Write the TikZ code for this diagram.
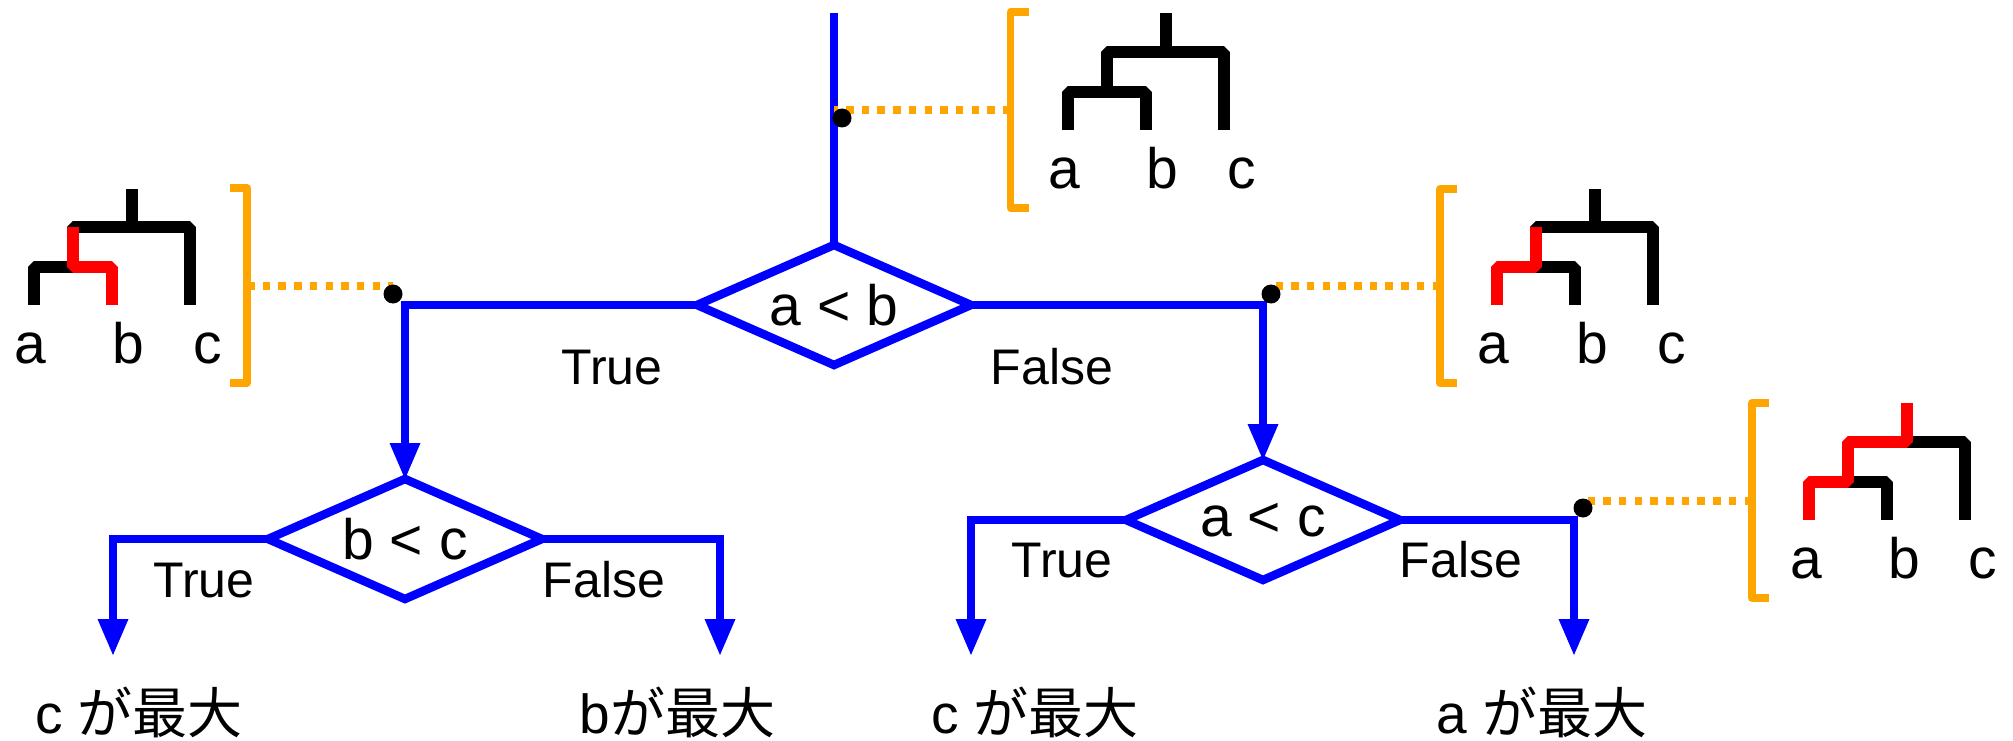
\documentclass[tikz,border=0pt]{standalone}
\usepackage{fontspec}
\setmainfont{Liberation Sans}
\newfontfamily\jpfont{Noto Sans CJK JP}
\usetikzlibrary{shapes.geometric,arrows.meta}

\definecolor{flowblue}{RGB}{0,0,255}
\definecolor{bracketorange}{RGB}{255,165,0}
\definecolor{pathred}{RGB}{255,0,0}

\tikzset{
  flow/.style={draw=flowblue, line width=8.5pt},
  arrowflow/.style={flow, -{Triangle[length=36pt,width=31pt,line width=0pt]}},
  decision/.style={diamond, draw=flowblue, line width=8.5pt, aspect=2.28,
    minimum width=274pt, minimum height=120pt, inner sep=0pt, outer sep=0pt,
    font=\fontsize{57}{60}\selectfont},
  branch/.style={font=\fontsize{50}{55}\selectfont, anchor=base, inner sep=0pt},
  result/.style={font=\fontsize{55}{60}\selectfont, anchor=base west, inner sep=0pt},
  leaf/.style={font=\fontsize{57}{60}\selectfont, anchor=base, inner sep=0pt},
  treeline/.style={draw=black, line width=12pt, line join=bevel, line cap=butt},
  hilite/.style={treeline, draw=pathred},
  bracket/.style={draw=bracketorange, line width=7.5pt, line join=round},
  guide/.style={draw=bracketorange, line width=7.5pt, dash pattern=on 7.5pt off 8.2pt},
  probe/.style={circle, fill=black, minimum size=19pt, inner sep=0pt},
}

\begin{document}
\begin{tikzpicture}[x=1pt,y=-1pt]
\useasboundingbox (0,0) rectangle (2013,741);

% ---- decisions ----
\node[decision] (d1) at (834,305) {a < b};
\node[decision] (d2) at (405,539) {b < c};
\node[decision] (d3) at (1263,520) {a < c};

\coordinate (entry) at (834,13);
\coordinate (out1) at (113,655);
\coordinate (out2) at (720,655);
\coordinate (out3) at (971,655);
\coordinate (out4) at (1574,655);

\draw[flow] (entry) -- (d1.north);
\draw[arrowflow] (d1.west) -| (d2.north);
\draw[arrowflow] (d1.east) -| (d3.north);
\draw[arrowflow] (d2.west) -| (out1);
\draw[arrowflow] (d2.east) -| (out2);
\draw[arrowflow] (d3.west) -| (out3);
\draw[arrowflow] (d3.east) -| (out4);

% ---- branch labels ----
\node[branch] (t1) at (612,384) {True};
\node[branch] (f1) at (1052,384) {False};
\node[branch] (t2) at (204,597) {True};
\node[branch] (f2) at (604,597) {False};
\node[branch] (t3) at (1062,577) {True};
\node[branch] (f3) at (1461,577) {False};

% ---- results ----
\node[result] (r1) at (35,733) {c {\jpfont が最大}};
\node[result] (r2) at (579.5,733) {b{\jpfont が最大}};
\node[result] (r3) at (931,733) {c {\jpfont が最大}};
\node[result] (r4) at (1436,733) {a {\jpfont が最大}};

% ---- trees: origin at the foot of leaf a ----
% state at entry
\begin{scope}[shift={(1068,130)}]
  \draw[treeline] (0,0) |- (39,-38) -- (39,-78) -| (156,0);
  \draw[treeline] (78,0) |- (39,-38);
  \draw[treeline] (98,-78) -- (98,-117);
  \node[leaf] (a0) at (-4,58) {a};
  \node[leaf] (b0) at (94.5,58) {b};
  \node[leaf] (c0) at (174,58) {c};
  \draw[bracket] (-39,-118) -- (-57.5,-118) -- (-57.5,78) -- (-39,78);
  \coordinate (g0) at (-57.5,-20);
\end{scope}

% a < b holds
\begin{scope}[shift={(34,305)}]
  \draw[treeline] (0,0) |- (39,-38) -- (39,-78) -| (156,0);
  \draw[treeline] (98,-78) -- (98,-116);
  \draw[hilite] (78,0) |- (39,-38) -- (39,-78);
  \node[leaf] (a1) at (-4,58) {a};
  \node[leaf] (b1) at (94.5,58) {b};
  \node[leaf] (c1) at (174,58) {c};
  \draw[bracket] (196,-117) -- (213,-117) -- (213,78) -- (196,78);
  \coordinate (g1) at (213,-19);
\end{scope}

% a < b fails
\begin{scope}[shift={(1497,305)}]
  \draw[treeline] (78,0) |- (39,-38) -- (39,-78) -| (156,0);
  \draw[treeline] (98,-78) -- (98,-116);
  \draw[hilite] (0,0) |- (39,-38) -- (39,-78);
  \node[leaf] (a2) at (-4,58) {a};
  \node[leaf] (b2) at (95,58) {b};
  \node[leaf] (c2) at (175,58) {c};
  \draw[bracket] (-40,-116) -- (-57,-116) -- (-57,78) -- (-40,78);
  \coordinate (g2) at (-57,-19);
\end{scope}

% a < c fails
\begin{scope}[shift={(1809,520)}]
  \draw[treeline] (78,0) |- (39,-38);
  \draw[treeline] (98,-78) -| (156,0);
  \draw[hilite] (0,0) |- (39,-38) -- (39,-78) -- (98,-78) -- (98,-117);
  \node[leaf] (a3) at (-3,58) {a};
  \node[leaf] (b3) at (95,58) {b};
  \node[leaf] (c3) at (174,58) {c};
  \draw[bracket] (-40,-117) -- (-57,-117) -- (-57,78) -- (-40,78);
  \coordinate (g3) at (-57,-19);
\end{scope}

% ---- probe points, with guides back to their trees ----
\coordinate (p0) at (842,118);
\coordinate (p1) at (393,294);
\coordinate (p2) at (1271,294);
\coordinate (p3) at (1583,508);

\draw[guide] (g0) -- (g0 -| 834,0);
\draw[guide] (g1) -- (g1 -| p1);
\draw[guide] (g2) -- (g2 -| p2);
\draw[guide] (g3) -- (g3 -| p3);

\node[probe] (q0) at (p0) {};
\node[probe] (q1) at (p1) {};
\node[probe] (q2) at (p2) {};
\node[probe] (q3) at (p3) {};
\end{tikzpicture}
\end{document}
